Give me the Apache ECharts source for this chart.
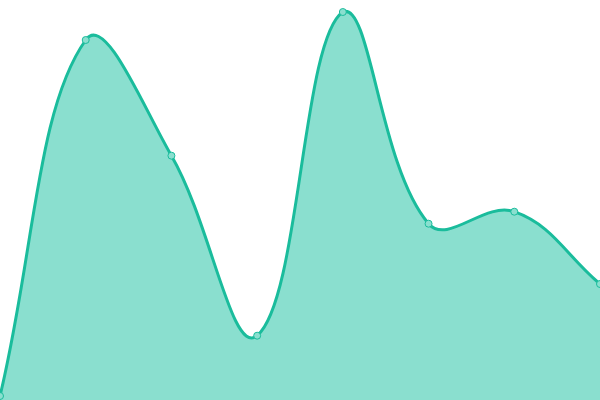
<!DOCTYPE html>
<html>
<head>
<meta charset="utf-8">
<script src="https://cdn.jsdelivr.net/npm/echarts@6/dist/echarts.min.js"></script>
<style>html,body{margin:0;padding:0;background:#fff}#c{width:600px;height:400px}</style>
</head>
<body>
<div id="c"></div>
<script>
var categories = ['1', '2', '3', '4', '5', '6', '7', '8'];
var values = [4, 360, 244.3, 64.3, 388, 176.3, 188.3, 116];

var LINE = '#1abc9c';
var FILL = '#8adfcf';
var TENSION = 0.4;

function splinePath(pts, t, area) {
  var n = pts.length;
  var cps = [];
  for (var i = 0; i < n; i++) {
    var prev = pts[Math.max(i - 1, 0)];
    var cur = pts[i];
    var next = pts[Math.min(i + 1, n - 1)];
    var d01 = Math.hypot(cur[0] - prev[0], cur[1] - prev[1]);
    var d12 = Math.hypot(next[0] - cur[0], next[1] - cur[1]);
    var s01 = d01 / (d01 + d12) || 0;
    var s12 = d12 / (d01 + d12) || 0;
    var fa = t * s01, fb = t * s12;
    var cp = {
      p: [cur[0] - fa * (next[0] - prev[0]), cur[1] - fa * (next[1] - prev[1])],
      n: [cur[0] + fb * (next[0] - prev[0]), cur[1] + fb * (next[1] - prev[1])]
    };
    [cp.p, cp.n].forEach(function (c) {
      c[0] = Math.min(Math.max(c[0], area.x), area.x + area.width);
      c[1] = Math.min(Math.max(c[1], area.y), area.y + area.height);
    });
    cps.push(cp);
  }
  var d = 'M' + pts[0][0] + ' ' + pts[0][1];
  for (var j = 1; j < n; j++) {
    d += ' C' + cps[j - 1].n[0] + ' ' + cps[j - 1].n[1] + ' ' + cps[j].p[0] + ' ' + cps[j].p[1] + ' ' + pts[j][0] + ' ' + pts[j][1];
  }
  return d;
}

var chart = echarts.init(document.getElementById('c'));
chart.setOption({
  animation: false,
  grid: { left: 0, right: 0, top: 0, bottom: 0 },
  xAxis: { type: 'category', data: categories, boundaryGap: false, show: false },
  yAxis: { type: 'value', min: 0, max: 400, show: false },
  series: [{
    type: 'custom',
    data: values.map(function (v, i) { return [i, v]; }),
    encode: { x: 0, y: 1 },
    renderItem: function (params, api) {
      if (params.dataIndex !== 0) return null;
      var area = params.coordSys;
      var pts = values.map(function (v, i) { return api.coord([i, v]); });
      var line = splinePath(pts, TENSION, area);
      var base = api.coord([values.length - 1, 0])[1];
      var fill = line + ' L' + pts[pts.length - 1][0] + ' ' + base + ' L' + pts[0][0] + ' ' + base + ' Z';
      return {
        type: 'group',
        children: [
          { type: 'path', shape: { pathData: fill }, style: { fill: FILL, stroke: null } },
          { type: 'path', shape: { pathData: line }, style: { fill: null, stroke: LINE, lineWidth: 3, lineJoin: 'round' } }
        ]
      };
    },
    z: 1
  }, {
    type: 'scatter',
    data: values,
    symbol: 'circle',
    symbolSize: 7,
    itemStyle: { color: FILL, borderColor: LINE, borderWidth: 1, opacity: 1 },
    z: 2
  }]
});
</script>
</body>
</html>
